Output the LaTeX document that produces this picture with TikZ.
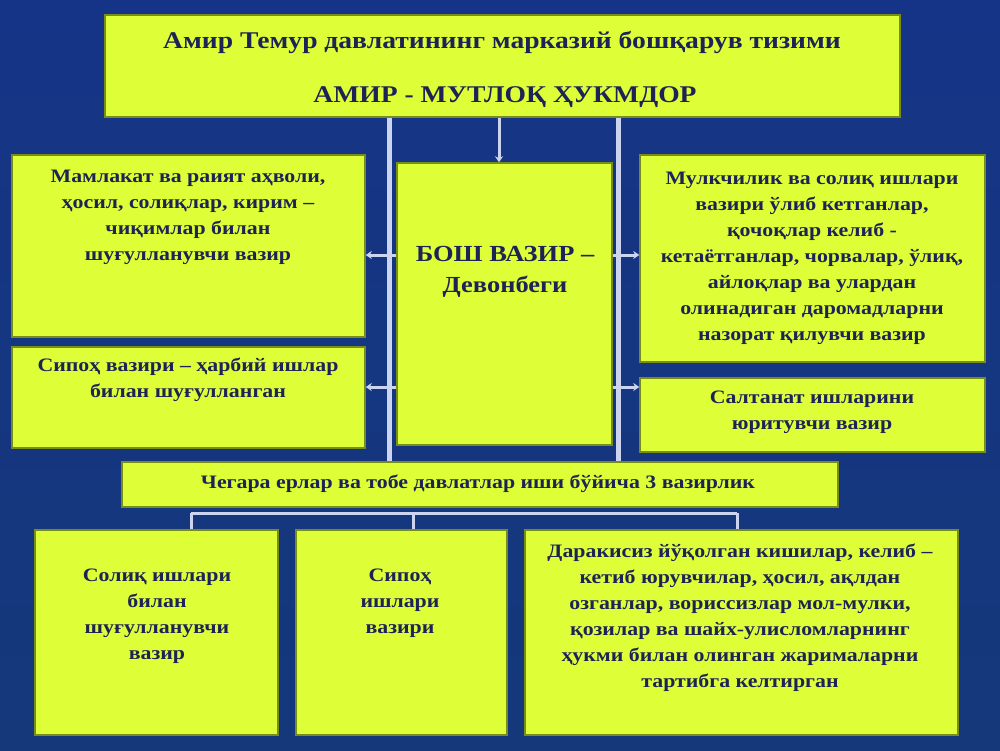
\documentclass[tikz,border=0pt]{standalone}
\usepackage{fontspec}
\setmainfont{Liberation Serif}[FakeStretch=1.15]
\usetikzlibrary{fit,arrows.meta}
\definecolor{ylw}{RGB}{222,255,55}
\definecolor{edgec}{RGB}{120,140,25}
\definecolor{ink}{RGB}{30,35,85}
\definecolor{linkc}{RGB}{205,212,240}
\definecolor{bgtop}{RGB}{22,52,135}
\definecolor{bgmid}{RGB}{38,88,178}
\definecolor{bgbot}{RGB}{20,56,122}
\tikzset{
  box/.style={draw=edgec, line width=1.5pt, fill=ylw, inner sep=0pt},
  txt/.style={text=ink, align=center, font=\bfseries\fontsize{19}{26}\selectfont, inner sep=0pt},
  bigtxt/.style={text=ink, align=center, font=\bfseries\fontsize{23}{31}\selectfont, inner sep=0pt},
  titletxt/.style={text=ink, align=center, font=\bfseries\fontsize{24}{31}\selectfont, inner sep=0pt},
  vline/.style={draw=linkc, line width=5pt},
  link/.style={draw=linkc, line width=3pt},
  tip/.style={draw=linkc, line width=3pt, -{Stealth[length=6pt,width=8pt]}}
}
\begin{document}
\begin{tikzpicture}[x=1pt,y=-1pt]
\useasboundingbox (0,0) rectangle (1000,750);
\shade[top color=bgtop, middle color=bgmid, bottom color=bgbot] (0,0) rectangle (1000,750);

% boxes
\node[box, fit={(105,15) (900,117)}] (title) {};
\node[box, fit={(12,155) (365,337)}] (ltop) {};
\node[box, fit={(12,347) (365,448)}] (lbot) {};
\node[box, fit={(397,163) (612,445)}] (center) {};
\node[box, fit={(640,155) (985,362)}] (rtop) {};
\node[box, fit={(640,378) (985,452)}] (rbot) {};
\node[box, fit={(122,462) (838,507)}] (bar) {};
\node[box, fit={(35,530) (278,735)}] (b1) {};
\node[box, fit={(296,530) (507,735)}] (b2) {};
\node[box, fit={(525,530) (958,735)}] (b3) {};

% texts
\node[titletxt] (t1) at (502,42) {Амир Темур давлатининг марказий бошқарув тизими};
\node[titletxt] (t2) at (505,97) {АМИР - МУТЛОҚ ҲУКМДОР};
\node[txt] (tltop) at (188,217) {Мамлакат ва раият аҳволи,\\ ҳосил, солиқлар, кирим –\\ чиқимлар билан\\ шуғулланувчи вазир};
\node[txt] (tlbot) at (188,380) {Сипоҳ вазири – ҳарбий ишлар\\ билан шуғулланган};
\node[bigtxt] (tcenter) at (505,272) {БОШ ВАЗИР –\\ Девонбеги};
\node[txt] (trtop) at (812,258) {Мулкчилик ва солиқ ишлари\\ вазири ўлиб кетганлар,\\ қочоқлар келиб -\\ кетаётганлар, чорвалар, ўлиқ,\\ айлоқлар ва улардан\\ олинадиган даромадларни\\ назорат қилувчи вазир};
\node[txt] (trbot) at (812,412) {Салтанат ишларини\\ юритувчи вазир};
\node[txt] (tbar) at (478,484) {Чегара ерлар ва тобе давлатлар иши бўйича 3 вазирлик};
\node[txt] (tb1) at (157,616) {Солиқ ишлари\\ билан\\ шуғулланувчи\\ вазир};
\node[txt] (tb2) at (400,603) {Сипоҳ\\ ишлари\\ вазири};
\node[txt] (tb3) at (740,618) {Даракисиз йўқолган кишилар, келиб –\\ кетиб юрувчилар, ҳосил, ақлдан\\ озганлар, ворисcизлар мол-мулки,\\ қозилар ва шайх-улисломларнинг\\ ҳукми билан олинган жарималарни\\ тартибга келтирган};

% connectors
\coordinate (vL) at (389,0);
\coordinate (vR) at (618,0);
\draw[vline] (title.south -| vL) -- (bar.north -| vL);
\draw[vline] (title.south -| vR) -- (bar.north -| vR);
\draw[tip] (title.south -| 499,0) -- (center.north -| 499,0);
\coordinate (s1) at (0,255);
\coordinate (s2) at (0,387);
\draw[tip] (center.west |- s1) -- (ltop.east |- s1);
\draw[tip] (center.west |- s2) -- (lbot.east |- s2);
\draw[tip] (center.east |- s1) -- (rtop.west |- s1);
\draw[tip] (center.east |- s2) -- (rbot.west |- s2);
\coordinate (h1) at (191,513);
\coordinate (h2) at (413,513);
\coordinate (h3) at (737,513);
\draw[link] (h1) -- (h3);
\draw[link] (h1) -- (b1.north -| h1);
\draw[link] (h2) -- (b2.north -| h2);
\draw[link] (h3) -- (b3.north -| h3);
\end{tikzpicture}
\end{document}
